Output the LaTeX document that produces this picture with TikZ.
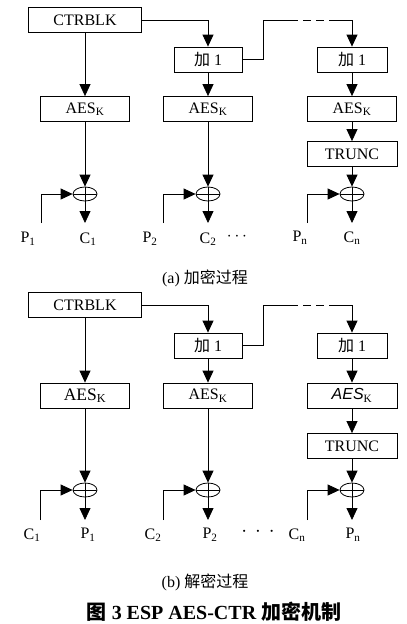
\documentclass[tikz,border=0pt]{standalone}
\usepackage{fontspec}
\setmainfont{Liberation Serif}
\setsansfont{Liberation Sans}
\newfontfamily\cjk{Noto Sans CJK SC}
\usetikzlibrary{arrows.meta,shapes.geometric}

\tikzset{
  blk/.style={draw, minimum height=25pt, inner sep=0pt},
  xor/.style={draw, ellipse, minimum width=24pt, minimum height=14pt, inner sep=0pt,
    path picture={\draw (path picture bounding box.west) -- (path picture bounding box.east);}},
  arr/.style={-{Triangle[length=12pt,width=11pt]}},
  gap/.style={dash pattern=on 8pt off 5pt},
}

\begin{document}
\begin{tikzpicture}[x=1pt, y=-1pt, line width=0.8pt, font=\fontsize{16}{18}\selectfont]
  \useasboundingbox (0,0) rectangle (407,624);

  % (a) encryption
  \node[blk, minimum width=113pt] (actr) at (85,20) {CTRBLK};
  \node[blk, minimum width=68pt] (ainc2) at (208,59.5) {{\cjk 加} 1};
  \node[blk, minimum width=70pt] (ainc3) at (352,59.5) {{\cjk 加} 1};
  \foreach \i/\x in {1/85, 2/208, 3/352}
    \node[blk, minimum width=89pt] (aaes\i) at (\x,109) {AES\textsubscript{K}};
  \node[blk, minimum width=90pt] (atrunc) at (352,154) {TRUNC};
  \foreach \i/\x/\px in {1/85/41, 2/208/163, 3/352/307}{
    \node[xor] (axor\i) at (\x,194) {};
    \coordinate (aout\i) at (\x,223);
    \coordinate (ain\i) at (\px,223);
    \draw[arr] (axor\i.north) -- (aout\i);
    \draw[arr] (ain\i) |- (axor\i.west);
  }
  \draw[arr] (actr.south) -- (aaes1.north);
  \draw[arr] (actr.east) -| (ainc2.north);
  \draw[arr] (ainc2) -- (aaes2);
  \draw[arr] (ainc3) -- (aaes3);
  \draw[arr] (aaes3) -- (atrunc);
  \draw[arr] (aaes1) -- (axor1.north);
  \draw[arr] (aaes2) -- (axor2.north);
  \draw[arr] (atrunc) -- (axor3.north);
  \coordinate (ab1) at (263,20);
  \coordinate (ab2) at (290,20);
  \coordinate (ab3) at (333,20);
  \draw (ainc2.east) -| (ab1) -- (ab2);
  \draw[gap] (ab2) -- (ab3);
  \draw[arr] (ab3) -| (ainc3.north);
  \node (ap1) at (28,239) {P\textsubscript{1}};
  \node (ac1) at (88,239) {C\textsubscript{1}};
  \node (ap2) at (150,239) {P\textsubscript{2}};
  \node (ac2) at (208,239) {C\textsubscript{2}};
  \node (adots) at (237,237) {$\cdots$};
  \node (apn) at (300,238) {P\textsubscript{n}};
  \node (acn) at (352,238) {C\textsubscript{n}};
  \node[font=\fontsize{16}{18}\selectfont] (capa) at (205,278) {(a)\ {\cjk 加密过程}};

  % (b) decryption
  \node[blk, minimum width=113pt] (bctr) at (85,305) {CTRBLK};
  \node[blk, minimum width=68pt] (binc2) at (208,345.5) {{\cjk 加} 1};
  \node[blk, minimum width=70pt] (binc3) at (352,345.5) {{\cjk 加} 1};
  \node[blk, minimum width=89pt, font=\fontsize{17.5}{19}\selectfont] (baes1) at (85,395.5) {AES\textsubscript{K}};
  \node[blk, minimum width=89pt] (baes2) at (208,395.5) {AES\textsubscript{K}};
  \node[blk, minimum width=90pt] (baes3) at (352,395.5) {{\sffamily\itshape AES}\textsubscript{K}};
  \node[blk, minimum width=90pt] (btrunc) at (352,446) {TRUNC};
  \foreach \i/\x/\px in {1/85/40, 2/208/163, 3/352/307}{
    \node[xor] (bxor\i) at (\x,490) {};
    \coordinate (bout\i) at (\x,520);
    \coordinate (bin\i) at (\px,520);
    \draw[arr] (bxor\i.north) -- (bout\i);
    \draw[arr] (bin\i) |- (bxor\i.west);
  }
  \draw[arr] (bctr.south) -- (baes1.north);
  \draw[arr] (bctr.east) -| (binc2.north);
  \draw[arr] (binc2) -- (baes2);
  \draw[arr] (binc3) -- (baes3);
  \draw[arr] (baes3) -- (btrunc);
  \draw[arr] (baes1) -- (bxor1.north);
  \draw[arr] (baes2) -- (bxor2.north);
  \draw[arr] (btrunc) -- (bxor3.north);
  \coordinate (bb1) at (263,305);
  \coordinate (bb2) at (290,305);
  \coordinate (bb3) at (333,305);
  \draw (binc2.east) -| (bb1) -- (bb2);
  \draw[gap] (bb2) -- (bb3);
  \draw[arr] (bb3) -| (binc3.north);
  \node (bc1) at (32,535) {C\textsubscript{1}};
  \node (bp1) at (88,535) {P\textsubscript{1}};
  \node (bc2) at (153,535) {C\textsubscript{2}};
  \node (bp2) at (210,535) {P\textsubscript{2}};
  \node[font=\fontsize{22}{22}\selectfont] (bdots) at (258,532) {$\cdot\,\cdot\,\cdot$};
  \node (bcn) at (297,535) {C\textsubscript{n}};
  \node (bpn) at (353,535) {P\textsubscript{n}};
  \node[font=\fontsize{16}{18}\selectfont] (capb) at (205,582) {(b)\ {\cjk 解密过程}};

  \node[font=\bfseries\fontsize{20}{22}\selectfont] (title) at (214,612)
    {{\cjk 图} 3 ESP AES-CTR {\cjk 加密机制}};
\end{tikzpicture}
\end{document}
